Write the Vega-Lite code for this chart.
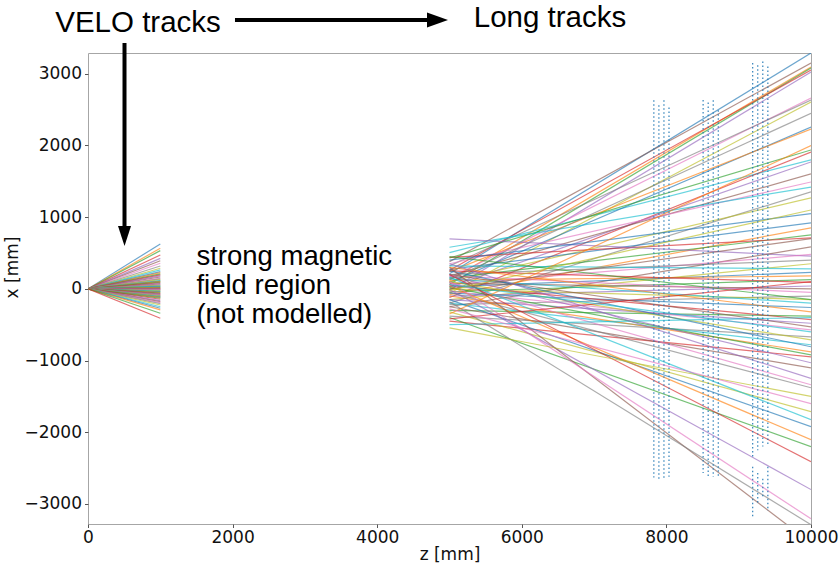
{
 "$schema": "https://vega.github.io/schema/vega-lite/v6.json",
 "width": 723, "height": 471,
 "autosize": {"type": "none"},
 "padding": {"left": 88, "top": 53, "right": 29, "bottom": 41},
 "background": "white",
 "config": {"view": {"stroke": "#a6a6a6", "strokeWidth": 1}},
 "datasets": {
  "tracks": [
   {"t":"V01","z0":0,"a":0,"z1":1000,"b":626},{"t":"V02","z0":0,"a":0,"z1":1000,"b":566},{"t":"V03","z0":0,"a":0,"z1":1000,"b":533},{"t":"V04","z0":0,"a":0,"z1":1000,"b":473},
   {"t":"V05","z0":0,"a":0,"z1":1000,"b":425},{"t":"V06","z0":0,"a":0,"z1":1000,"b":392},{"t":"V07","z0":0,"a":0,"z1":1000,"b":357},{"t":"V08","z0":0,"a":0,"z1":1000,"b":319},
   {"t":"V09","z0":0,"a":0,"z1":1000,"b":287},{"t":"V10","z0":0,"a":0,"z1":1000,"b":264},{"t":"V11","z0":0,"a":0,"z1":1000,"b":240},{"t":"V12","z0":0,"a":0,"z1":1000,"b":226},
   {"t":"V13","z0":0,"a":0,"z1":1000,"b":210},{"t":"V14","z0":0,"a":0,"z1":1000,"b":194},{"t":"V15","z0":0,"a":0,"z1":1000,"b":180},{"t":"V16","z0":0,"a":0,"z1":1000,"b":165},
   {"t":"V17","z0":0,"a":0,"z1":1000,"b":150},{"t":"V18","z0":0,"a":0,"z1":1000,"b":140},{"t":"V19","z0":0,"a":0,"z1":1000,"b":128},{"t":"V20","z0":0,"a":0,"z1":1000,"b":115},
   {"t":"V21","z0":0,"a":0,"z1":1000,"b":110},{"t":"V22","z0":0,"a":0,"z1":1000,"b":105},{"t":"V23","z0":0,"a":0,"z1":1000,"b":95},{"t":"V24","z0":0,"a":0,"z1":1000,"b":85},
   {"t":"V25","z0":0,"a":0,"z1":1000,"b":75},{"t":"V26","z0":0,"a":0,"z1":1000,"b":68},{"t":"V27","z0":0,"a":0,"z1":1000,"b":60},{"t":"V28","z0":0,"a":0,"z1":1000,"b":52},
   {"t":"V29","z0":0,"a":0,"z1":1000,"b":45},{"t":"V30","z0":0,"a":0,"z1":1000,"b":38},{"t":"V31","z0":0,"a":0,"z1":1000,"b":30},{"t":"V32","z0":0,"a":0,"z1":1000,"b":22},
   {"t":"V33","z0":0,"a":0,"z1":1000,"b":15},{"t":"V34","z0":0,"a":0,"z1":1000,"b":8},{"t":"V35","z0":0,"a":0,"z1":1000,"b":0},{"t":"V36","z0":0,"a":0,"z1":1000,"b":-6},
   {"t":"V37","z0":0,"a":0,"z1":1000,"b":-12},{"t":"V38","z0":0,"a":0,"z1":1000,"b":-20},{"t":"V39","z0":0,"a":0,"z1":1000,"b":-28},{"t":"V40","z0":0,"a":0,"z1":1000,"b":-35},
   {"t":"V41","z0":0,"a":0,"z1":1000,"b":-42},{"t":"V42","z0":0,"a":0,"z1":1000,"b":-50},{"t":"V43","z0":0,"a":0,"z1":1000,"b":-58},{"t":"V44","z0":0,"a":0,"z1":1000,"b":-65},
   {"t":"V45","z0":0,"a":0,"z1":1000,"b":-72},{"t":"V46","z0":0,"a":0,"z1":1000,"b":-80},{"t":"V47","z0":0,"a":0,"z1":1000,"b":-88},{"t":"V48","z0":0,"a":0,"z1":1000,"b":-95},
   {"t":"V49","z0":0,"a":0,"z1":1000,"b":-100},{"t":"V50","z0":0,"a":0,"z1":1000,"b":-109},{"t":"V51","z0":0,"a":0,"z1":1000,"b":-115},{"t":"V52","z0":0,"a":0,"z1":1000,"b":-120},
   {"t":"V53","z0":0,"a":0,"z1":1000,"b":-131},{"t":"V54","z0":0,"a":0,"z1":1000,"b":-145},{"t":"V55","z0":0,"a":0,"z1":1000,"b":-165},{"t":"V56","z0":0,"a":0,"z1":1000,"b":-178},
   {"t":"V57","z0":0,"a":0,"z1":1000,"b":-192},{"t":"V58","z0":0,"a":0,"z1":1000,"b":-205},{"t":"V59","z0":0,"a":0,"z1":1000,"b":-225},{"t":"V60","z0":0,"a":0,"z1":1000,"b":-250},
   {"t":"V61","z0":0,"a":0,"z1":1000,"b":-270},{"t":"V62","z0":0,"a":0,"z1":1000,"b":-294},{"t":"V63","z0":0,"a":0,"z1":1000,"b":-340},{"t":"V64","z0":0,"a":0,"z1":1000,"b":-410},
   {"t":"L01","z0":5000,"a":210,"z1":10000,"b":3290},{"t":"L02","z0":5000,"a":120,"z1":10000,"b":3094},{"t":"L03","z0":5000,"a":60,"z1":10000,"b":3080},{"t":"L04","z0":5000,"a":260,"z1":10000,"b":3052},
   {"t":"L05","z0":5000,"a":-20,"z1":10000,"b":3024},{"t":"L06","z0":5000,"a":380,"z1":10000,"b":3150},{"t":"L07","z0":5000,"a":150,"z1":10000,"b":2662},{"t":"L08","z0":5000,"a":320,"z1":10000,"b":2634},
   {"t":"L09","z0":5000,"a":-60,"z1":10000,"b":2606},{"t":"L10","z0":5000,"a":505,"z1":10000,"b":1800},{"t":"L11","z0":5000,"a":90,"z1":10000,"b":2258},{"t":"L12","z0":5000,"a":240,"z1":10000,"b":2230},
   {"t":"L13","z0":5000,"a":430,"z1":10000,"b":1937},{"t":"L14","z0":5000,"a":-120,"z1":10000,"b":1909},{"t":"L15","z0":5000,"a":30,"z1":10000,"b":1770},{"t":"L16","z0":5000,"a":180,"z1":10000,"b":1603},
   {"t":"L17","z0":5000,"a":350,"z1":10000,"b":1491},{"t":"L18","z0":5000,"a":-200,"z1":10000,"b":1352},{"t":"L19","z0":5000,"a":100,"z1":10000,"b":1268},{"t":"L20","z0":5000,"a":580,"z1":10000,"b":1420},
   {"t":"L21","z0":5000,"a":270,"z1":10000,"b":920},{"t":"L22","z0":5000,"a":-80,"z1":10000,"b":850},{"t":"L23","z0":5000,"a":150,"z1":10000,"b":753},{"t":"L24","z0":5000,"a":440,"z1":10000,"b":711},
   {"t":"L25","z0":5000,"a":697,"z1":10000,"b":456},{"t":"L26","z0":5000,"a":-250,"z1":10000,"b":585},{"t":"L27","z0":5000,"a":60,"z1":10000,"b":480},{"t":"L28","z0":5000,"a":200,"z1":10000,"b":400},
   {"t":"L29","z0":5000,"a":-150,"z1":10000,"b":350},{"t":"L30","z0":5000,"a":320,"z1":10000,"b":280},{"t":"L31","z0":5000,"a":30,"z1":10000,"b":230},{"t":"L32","z0":5000,"a":120,"z1":10000,"b":180},
   {"t":"L33","z0":5000,"a":-40,"z1":10000,"b":130},{"t":"L34","z0":5000,"a":250,"z1":10000,"b":90},{"t":"L35","z0":5000,"a":-100,"z1":10000,"b":40},{"t":"L36","z0":5000,"a":80,"z1":10000,"b":0},
   {"t":"L37","z0":5000,"a":180,"z1":10000,"b":-50},{"t":"L38","z0":5000,"a":-220,"z1":10000,"b":-100},{"t":"L39","z0":5000,"a":0,"z1":10000,"b":-150},{"t":"L40","z0":5000,"a":140,"z1":10000,"b":-200},
   {"t":"L41","z0":5000,"a":-60,"z1":10000,"b":-260},{"t":"L42","z0":5000,"a":300,"z1":10000,"b":-320},{"t":"L43","z0":5000,"a":-300,"z1":10000,"b":-380},{"t":"L44","z0":5000,"a":50,"z1":10000,"b":-430},
   {"t":"L45","z0":5000,"a":-150,"z1":10000,"b":-480},{"t":"L46","z0":5000,"a":200,"z1":10000,"b":-530},{"t":"L47","z0":5000,"a":-30,"z1":10000,"b":-571},{"t":"L48","z0":5000,"a":-380,"z1":10000,"b":-669},
   {"t":"L49","z0":5000,"a":100,"z1":10000,"b":-711},{"t":"L50","z0":5000,"a":-200,"z1":10000,"b":-780},{"t":"L51","z0":5000,"a":250,"z1":10000,"b":-808},{"t":"L52","z0":5000,"a":-100,"z1":10000,"b":-878},
   {"t":"L53","z0":5000,"a":20,"z1":10000,"b":-920},{"t":"L54","z0":5000,"a":-450,"z1":10000,"b":-948},{"t":"L55","z0":5000,"a":180,"z1":10000,"b":-1031},{"t":"L56","z0":5000,"a":-250,"z1":10000,"b":-1101},
   {"t":"L57","z0":5000,"a":90,"z1":10000,"b":-1338},{"t":"L58","z0":5000,"a":-50,"z1":10000,"b":-1380},{"t":"L59","z0":5000,"a":-320,"z1":10000,"b":-1714},{"t":"L60","z0":5000,"a":160,"z1":10000,"b":-1826},
   {"t":"L61","z0":5000,"a":-150,"z1":10000,"b":-1923},{"t":"L62","z0":5000,"a":40,"z1":10000,"b":-2105},{"t":"L63","z0":5000,"a":-400,"z1":10000,"b":-2202},{"t":"L64","z0":5000,"a":200,"z1":10000,"b":-2411},
   {"t":"L65","z0":5000,"a":-10,"z1":10000,"b":-2800},{"t":"L66","z0":5000,"a":298,"z1":10000,"b":-3546},{"t":"L67","z0":5000,"a":100,"z1":10000,"b":-3208},{"t":"L68","z0":5000,"a":-180,"z1":10000,"b":-3290},
   {"t":"L69","z0":5000,"a":-545,"z1":10000,"b":-1500},{"t":"L70","z0":5000,"a":-500,"z1":10000,"b":-400},{"t":"L71","z0":5000,"a":400,"z1":10000,"b":1050},{"t":"L72","z0":5000,"a":-350,"z1":10000,"b":2000},
   {"t":"L73","z0":5000,"a":450,"z1":10000,"b":-150},{"t":"L74","z0":5000,"a":-420,"z1":10000,"b":100},{"t":"L75","z0":5000,"a":350,"z1":10000,"b":-1250},{"t":"L76","z0":5000,"a":0,"z1":10000,"b":700},
   {"t":"L77","z0":5000,"a":-280,"z1":10000,"b":-1600},{"t":"L78","z0":5000,"a":130,"z1":10000,"b":2450},{"t":"L79","z0":5000,"a":-20,"z1":10000,"b":1100},{"t":"L80","z0":5000,"a":60,"z1":10000,"b":-600}
  ],
  "hits": [
   {"z":7826,"top":2630,"bot":-2630},{"z":7896,"top":2560,"bot":-2660},{"z":7966,"top":2630,"bot":-2650},{"z":8036,"top":2530,"bot":-2620},
   {"z":8508,"top":2634,"bot":-2570},{"z":8578,"top":2600,"bot":-2640},{"z":8648,"top":2630,"bot":-2620},{"z":8718,"top":2490,"bot":-2640},
   {"z":9193,"top":3150,"bot":-2340},{"z":9263,"top":3120,"bot":-2250},{"z":9333,"top":3170,"bot":-2200},{"z":9403,"top":3100,"bot":-2200},
   {"z":9193,"top":-2480,"bot":-3180},{"z":9263,"top":-2570,"bot":-3000},{"z":9333,"top":-2650,"bot":-2900},{"z":9403,"top":-2480,"bot":-3100}
  ]
 },
 "encoding": {
  "x": {"type": "quantitative",
   "scale": {"domain": [0, 10000], "nice": false, "zero": false},
   "axis": {"values": [0, 2000, 4000, 6000, 8000, 10000], "format": "d", "title": "z [mm]", "grid": false, "domain": false, "labelFlush": false,
    "tickSize": 3.5, "tickColor": "#555555", "labelFont": "DejaVu Sans", "labelFontSize": 17, "labelColor": "#111111", "labelPadding": 2,
    "titleFont": "DejaVu Sans", "titleFontSize": 17, "titleFontWeight": "normal", "titleColor": "#111111", "titlePadding": 1}},
  "y": {"type": "quantitative",
   "scale": {"domain": [-3280, 3290], "nice": false, "zero": false},
   "axis": {"values": [-3000, -2000, -1000, 0, 1000, 2000, 3000], "format": "d", "title": "x [mm]", "grid": false, "domain": false, "labelFlush": false,
    "tickSize": 3.5, "tickColor": "#555555", "labelFont": "DejaVu Sans", "labelFontSize": 17, "labelColor": "#111111", "labelPadding": 3,
    "titleFont": "DejaVu Sans", "titleFontSize": 17, "titleFontWeight": "normal", "titleColor": "#111111", "titlePadding": 2, "titleY": 214}}
 },
 "layer": [
  {
   "data": {"name": "tracks"},
   "mark": {"type": "rule", "clip": true, "strokeWidth": 1.2, "opacity": 0.65},
   "encoding": {
    "x": {"field": "z0", "type": "quantitative"},
    "x2": {"field": "z1"},
    "y": {"field": "a", "type": "quantitative"},
    "y2": {"field": "b"},
    "color": {"field": "t", "type": "nominal", "legend": null,
     "scale": {"range": ["#1f77b4","#ff7f0e","#2ca02c","#d62728","#9467bd","#8c564b","#e377c2","#7f7f7f","#bcbd22","#17becf"]}}
   }
  },
  {
   "data": {"name": "hits"},
   "mark": {"type": "rule", "clip": true, "strokeWidth": 1.3, "color": "#1f77b4", "opacity": 0.85, "strokeDash": [1.5, 2.5]},
   "encoding": {
    "x": {"field": "z", "type": "quantitative"},
    "y": {"field": "top", "type": "quantitative"},
    "y2": {"field": "bot"}
   }
  },
  {
   "data": {"values": [{"z": 692, "x": 3582, "label": "VELO tracks"}, {"z": 6390, "x": 3653, "label": "Long tracks"}]},
   "mark": {"type": "text", "clip": false, "font": "Liberation Sans", "fontSize": 29.5, "color": "black", "align": "center", "baseline": "alphabetic"},
   "encoding": {
    "x": {"field": "z", "type": "quantitative"},
    "y": {"field": "x", "type": "quantitative"},
    "text": {"field": "label"}
   }
  },
  {
   "data": {"values": [{"z": 2033, "x": 3751, "z2": 4760, "x2": 3751}, {"z": 505, "x": 3430, "z2": 505, "x2": 820}]},
   "mark": {"type": "rule", "clip": false, "strokeWidth": 4, "color": "black"},
   "encoding": {
    "x": {"field": "z", "type": "quantitative"},
    "x2": {"field": "z2"},
    "y": {"field": "x", "type": "quantitative"},
    "y2": {"field": "x2"}
   }
  },
  {
   "data": {"values": [{"z": 4834, "x": 3751}]},
   "mark": {"type": "point", "clip": false, "filled": true, "color": "black", "opacity": 1, "size": 441, "shape": "M-1,-0.71L1,0L-1,0.71Z"},
   "encoding": {
    "x": {"field": "z", "type": "quantitative"},
    "y": {"field": "x", "type": "quantitative"}
   }
  },
  {
   "data": {"values": [{"z": 505, "x": 738}]},
   "mark": {"type": "point", "clip": false, "filled": true, "color": "black", "opacity": 1, "size": 400, "shape": "M-0.65,-1L0.65,-1L0,1Z"},
   "encoding": {
    "x": {"field": "z", "type": "quantitative"},
    "y": {"field": "x", "type": "quantitative"}
   }
  },
  {
   "data": {"values": [{"z": 1500, "x": 333, "label": "strong magnetic\nfield region\n(not modelled)"}]},
   "mark": {"type": "text", "clip": false, "font": "Liberation Sans", "fontSize": 27.5, "lineHeight": 29, "lineBreak": "\n", "color": "black", "align": "left", "baseline": "alphabetic"},
   "encoding": {
    "x": {"field": "z", "type": "quantitative"},
    "y": {"field": "x", "type": "quantitative"},
    "text": {"field": "label"}
   }
  }
 ]
}
